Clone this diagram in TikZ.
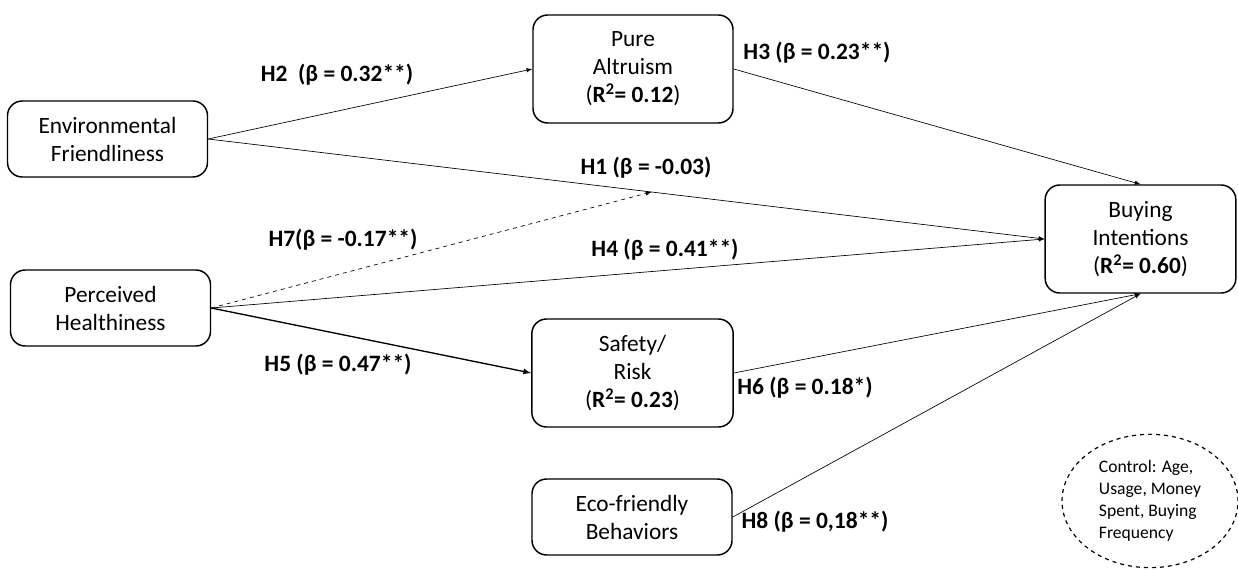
\documentclass[tikz,border=0pt]{standalone}
\usepackage{fontspec}
\setmainfont{Carlito}
\usetikzlibrary{arrows,shapes,positioning,calc}

\begin{document}
\begin{tikzpicture}[x=0.75pt,y=-0.75pt,>=latex,
  construct/.style={draw,line width=1.1pt,rounded corners=11pt,align=center,
    inner sep=0pt,font=\fontsize{17.5}{21}\selectfont},
  path/.style={->,line width=0.5pt},
  hyp/.style={font=\fontsize{17.6}{21}\selectfont\bfseries,inner sep=1pt}]
\useasboundingbox (0,0) rectangle (1238,570);

% constructs
\node[construct,minimum width=150pt,minimum height=57pt] (env) at (107.5,139) {Environmental\\Friendliness};
\node[construct,minimum width=150pt,minimum height=57pt] (health) at (110.5,308) {Perceived\\Healthiness};
\node[construct,minimum width=150pt,minimum height=81pt] (altru) at (633,69) {Pure\\Altruism\\(\textbf{R\textsuperscript{2}= 0.12})};
\node[construct,minimum width=151pt,minimum height=81pt] (safety) at (632.5,373) {Safety/\\Risk\\(\textbf{R\textsuperscript{2}= 0.23})};
\node[construct,minimum width=150pt,minimum height=57pt] (eco) at (632,517) {Eco-friendly\\Behaviors};
\node[construct,minimum width=143pt,minimum height=81pt] (buy) at (1140.5,239) {Buying\\Intentions\\(\textbf{R\textsuperscript{2}= 0.60})};
\node[draw,dashed,ellipse,line width=0.9pt,minimum width=132pt,minimum height=100pt,
  align=left,inner sep=0pt,font=\fontsize{13.2}{16.5}\selectfont] (ctrl) at (1150,501)
  {Control: Age,\\Usage, Money\\Spent, Buying\\Frequency};

% paths
\draw[path] (env.east) -- (altru.west);
\draw[path] (env.east) -- coordinate[pos=0.53] (h1mid) (buy.west);
\draw[path] (health.east) -- (buy.west);
\draw[path,dashed] (health.east) -- (h1mid);
\draw[path,line width=1pt] (health.east) -- (safety.west);
\draw[path] (altru.east) -- (buy.north);
\draw[path] (safety.east) -- (buy.south);
\draw[path] (eco.east) -- (buy.south);

% hypotheses
\node[hyp] (h2) at (337,75) {H2~ (β = 0.32**)};
\node[hyp] (h3) at (817,53) {H3 (β = 0.23**)};
\node[hyp] (h1) at (646,168) {H1 (β = -0.03)};
\node[hyp] (h7) at (343,240) {H7(β = -0.17**)};
\node[hyp] (h4) at (665,250) {H4 (β = 0.41**)};
\node[hyp] (h5) at (338,365) {H5 (β = 0.47**)};
\node[hyp] (h6) at (805,388) {H6 (β = 0.18*)};
\node[hyp] (h8) at (815,522) {H8 (β = 0,18**)};
\end{tikzpicture}
\end{document}
